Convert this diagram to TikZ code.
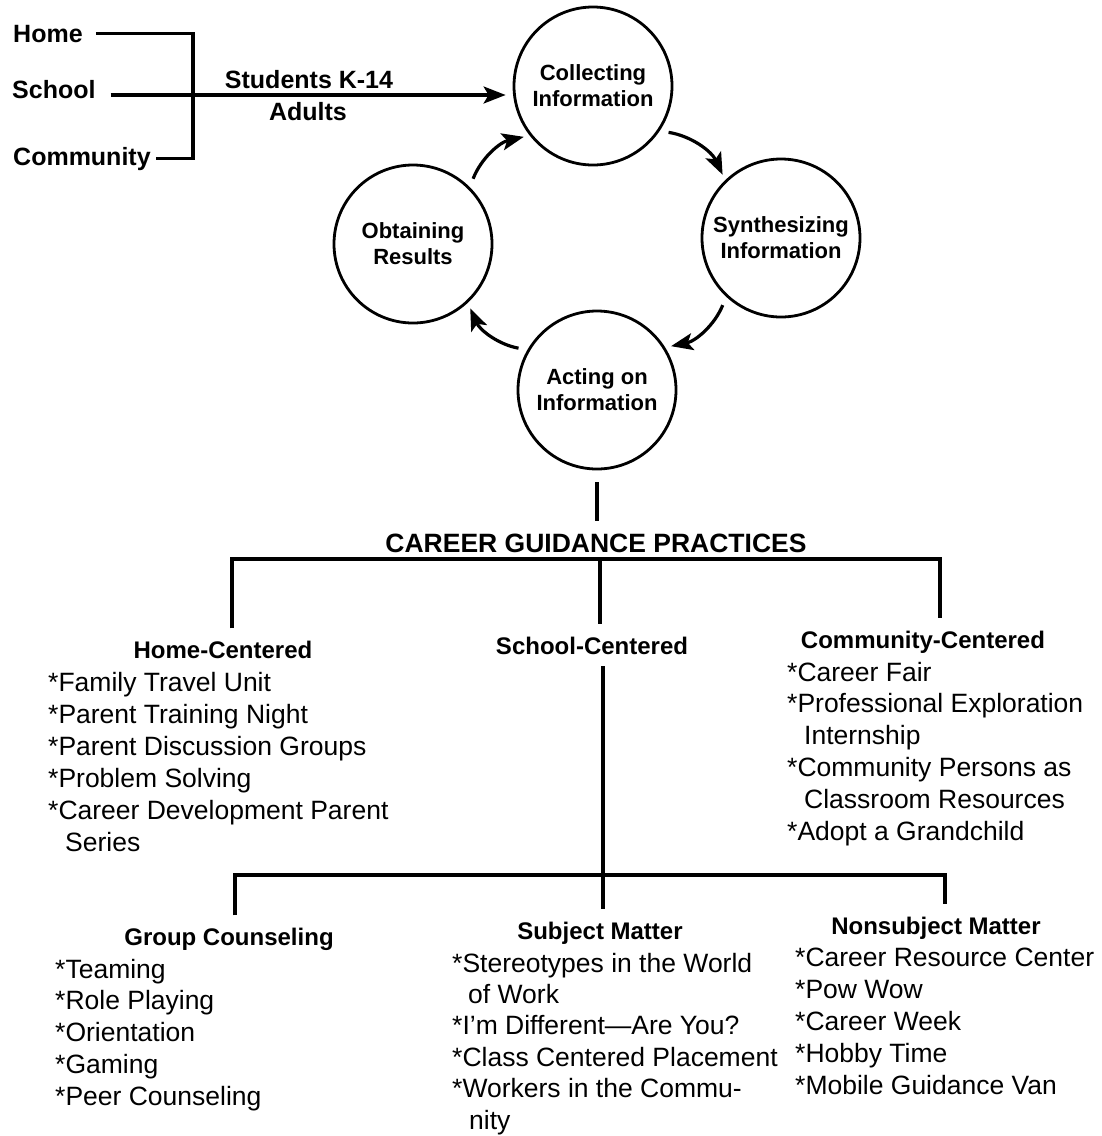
\documentclass[tikz,border=0pt]{standalone}
\usepackage{fontspec}
\setmainfont{Liberation Sans}
\usetikzlibrary{arrows.meta}
\newcommand\myfs[2]{\fontsize{#1}{#2}\selectfont}

\begin{document}
\begin{tikzpicture}[x=1pt,y=1pt,
  conn/.style={line width=3.2pt},
  flow/.style={line width=3.2pt,-{Stealth[length=22pt,width=17pt,inset=5pt]}},
  circ/.style={circle,draw,line width=2.8pt,minimum size=158pt,inner sep=0pt,
               align=center,font=\bfseries\myfs{22}{26}},
  src/.style={font=\bfseries\myfs{25}{30},inner sep=0pt},
  head/.style={font=\bfseries\myfs{24}{29},inner xsep=0pt,inner ysep=12pt,anchor=base},
  item/.style={font=\myfs{26.5}{32},inner sep=0pt,anchor=base west},
]
\useasboundingbox (0,0) rectangle (1102,-1136);

% ---- sources feeding the cycle ----
\node[src,anchor=base west] (home) at (13,-42) {Home};
\node[src,anchor=base west] (school) at (12,-98) {School};
\node[src,anchor=base west] (community) at (13,-165) {Community};
\coordinate (bt) at (193,-33);
\coordinate (sj) at (193,-95);
\path ([xshift=13pt]home.east) coordinate (h0)
      ([xshift=15pt]school.east) coordinate (s0)
      ([xshift=5pt]community.east) coordinate (c0);
\draw[conn] (h0) -- (h0 -| bt) -- (c0 -| bt) -- (c0);

\node[src,anchor=base] (stud) at (309,-88) {Students K-14};
\node[src,anchor=base] (adul) at (308,-120) {Adults};

% ---- the information cycle ----
\node[circ] (collect) at (593,-86) {Collecting\\Information};
\node[circ] (synth) at (781,-238) {Synthesizing\\Information};
\node[circ] (acting) at (597,-390) {Acting on\\Information};
\node[circ] (obtain) at (413,-244) {Obtaining\\Results};

\draw[flow,shorten >=7pt] (s0 |- sj) -- (sj -| collect.west);

\draw[flow,shorten <=9pt,shorten >=6pt] (collect.-34) to[bend left=28] (synth.134);
\draw[flow,shorten <=9pt,shorten >=6pt] (synth.227) to[bend left=28] (acting.32);
\draw[flow,shorten <=9pt,shorten >=6pt] (acting.150) to[bend left=28] (obtain.-47);
\draw[flow,shorten <=9pt,shorten >=6pt] (obtain.45) to[bend left=28] (collect.218);

% ---- practices tree ----
\node[font=\bfseries\myfs{26.5}{30},inner sep=0pt,anchor=base] (title) at (596,-552)
  {CAREER GUIDANCE PRACTICES};
\draw[conn,shorten <=12pt,shorten >=12pt] (acting.south) -- (acting.south |- title.north);

\coordinate (tL) at (232,-559);
\coordinate (tR) at (940,-559);
\coordinate (tJ) at (600,-559);

\node[head] (homec) at (223,-658) {Home-Centered};
\node[head] (schoolc) at (592,-654) {School-Centered};
\node[head] (commc) at (923,-648) {Community-Centered};

\draw[conn] (tL |- homec.north) -- (tL) -- (tR) -- (tR |- commc.north);
\draw[conn] (tJ) -- (tJ |- schoolc.north);

\coordinate (bL) at (235,-875);
\coordinate (bR) at (945,-875);
\coordinate (bJ) at (603,-875);

\node[head] (groupc) at (229,-945) {Group Counseling};
\node[head] (subjc) at (600,-939) {Subject Matter};
\node[head] (nonsc) at (936,-934) {Nonsubject Matter};

\draw[conn] (bJ |- schoolc.south) -- (bJ) -- (bJ |- subjc.north);
\draw[conn] (bL |- groupc.north) -- (bL) -- (bR) -- (bR |- nonsc.north);

% ---- item lists ----
\foreach \t [count=\i] in {*Family Travel Unit,*Parent Training Night,
    *Parent Discussion Groups,*Problem Solving,*Career Development Parent,
    \hspace*{17pt}Series}
  \node[item,name=hm\i] at (48,{-691-32*(\i-1)}) {\t};

\foreach \t [count=\i] in {*Career Fair,*Professional Exploration,
    \hspace*{17pt}Internship,*Community Persons as,
    \hspace*{17pt}Classroom Resources,*Adopt a Grandchild}
  \node[item,name=cm\i] at (787,{-681-31.8*(\i-1)}) {\t};

\foreach \t [count=\i] in {*Teaming,*Role Playing,*Orientation,*Gaming,
    *Peer Counseling}
  \node[item,name=gr\i] at (55,{-978-31.75*(\i-1)}) {\t};

\foreach \t [count=\i] in {*Stereotypes in the World,\hspace*{16pt}of Work,
    *I’m Different—Are You?,*Class Centered Placement,
    *Workers in the Commu-,\hspace*{17pt}nity}
  \node[item,name=sm\i] at (452,{-972-31.4*(\i-1)}) {\t};

\foreach \t [count=\i] in {*Career Resource Center,*Pow Wow,*Career Week,
    *Hobby Time,*Mobile Guidance Van}
  \node[item,name=ns\i] at (795,{-966-32*(\i-1)}) {\t};

\end{tikzpicture}
\end{document}
